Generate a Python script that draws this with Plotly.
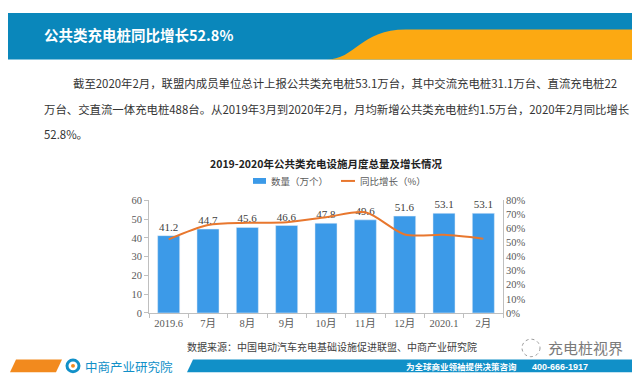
import plotly.graph_objects as go

# ---------------- data ----------------
categories = ["2019.6", "7月", "8月", "9月", "10月", "11月", "12月", "2020.1", "2月"]
quantity = [41.2, 44.7, 45.6, 46.6, 47.8, 49.6, 51.6, 53.1, 53.1]          # 万个
growth = [52.3, 62.5, 64.0, 64.5, 68.0, 71.5, 55.8, 55.5, 52.8]           # %
left_ticks = [0, 10, 20, 30, 40, 50, 60]
right_ticks = [0, 10, 20, 30, 40, 50, 60, 70, 80]
right_labels = [f"{v}%" for v in right_ticks]
series_names = ["数量（万个）", "同比增长（%）"]

W, H = 640, 376
def px(x): return x / W
def py(y): return 1 - y / H

BAR_C = "#3c9ae8"
LINE_C = "#e8772e"
BLUE = "#0a87bb"
ORANGE = "#fca912"
CJK = "Noto Sans CJK SC"
SERIF = "Liberation Serif, Noto Sans CJK SC"

fig = go.Figure()
fig.add_trace(go.Bar(
    x=categories, y=quantity, name=series_names[0],
    marker=dict(color=BAR_C), width=0.56,
    text=[f"{v:.1f}" for v in quantity], textposition="outside",
    textfont=dict(family=SERIF, size=11, color="#404040"),
    cliponaxis=False, yaxis="y", showlegend=False,
))
fig.add_trace(go.Scatter(
    x=categories, y=growth, name=series_names[1], mode="lines",
    line=dict(color=LINE_C, width=2, shape="spline", smoothing=0.8),
    yaxis="y2", showlegend=False,
))

axis_font = dict(family=SERIF, size=10.5, color="#595959")
fig.update_layout(
    width=W, height=H, margin=dict(l=0, r=0, t=0, b=0),
    paper_bgcolor="white", plot_bgcolor="rgba(0,0,0,0)",
    xaxis=dict(domain=[px(141), px(495)], showline=True, linecolor="#bfbfbf",
               ticks="outside", tickson="boundaries", ticklen=4, tickcolor="#bfbfbf",
               tickfont=axis_font, showgrid=False, anchor="y"),
    yaxis=dict(domain=[py(309), py(193)], range=[0, 60], tickvals=left_ticks,
               showline=True, linecolor="#bfbfbf", ticks="outside", ticklen=4,
               tickcolor="#bfbfbf", showgrid=False, zeroline=False, tickfont=axis_font),
    yaxis2=dict(overlaying="y", side="right", range=[0, 80], tickvals=right_ticks,
                ticktext=right_labels, showline=True, linecolor="#bfbfbf", ticks="",
                showgrid=False, zeroline=False, tickfont=axis_font, anchor="x"),
)

shapes = []
# top banner
shapes.append(dict(type="rect", xref="paper", yref="paper", x0=0, x1=1, y0=py(48), y1=1,
                   fillcolor=BLUE, line=dict(width=0), layer="below"))
shapes.append(dict(type="path", xref="paper", yref="paper",
                   path=(f"M {px(318)},{py(48)} C {px(348)},{py(48)} {px(352)},{py(17)} {px(398)},{py(17)} "
                         f"L 1,{py(17)} L 1,{py(48)} Z"),
                   fillcolor=ORANGE, line=dict(width=0), layer="below"))
# bottom banner
shapes.append(dict(type="path", xref="paper", yref="paper",
                   path=f"M {px(2)},{py(370)} L {px(8)},{py(357)} L {px(54)},{py(357)} L {px(48)},{py(370)} Z",
                   fillcolor="#f28a1e", line=dict(width=0)))
shapes.append(dict(type="path", xref="paper", yref="paper",
                   path=f"M {px(179)},{py(370)} L {px(185)},{py(357)} L {px(637)},{py(357)} L {px(631)},{py(370)} Z",
                   fillcolor="#1190c8", line=dict(width=0)))
# logo
shapes.append(dict(type="circle", xref="paper", yref="paper",
                   x0=px(59), x1=px(71), y0=py(369.5), y1=py(357.5),
                   line=dict(color="#1190c8", width=3)))
shapes.append(dict(type="circle", xref="paper", yref="paper",
                   x0=px(63), x1=px(67), y0=py(365.5), y1=py(361.5),
                   fillcolor="#f28a1e", line=dict(width=0)))
# wechat-like icon
shapes.append(dict(type="circle", xref="paper", yref="paper",
                   x0=px(514), x1=px(532), y0=py(354), y1=py(336),
                   line=dict(color="#9a9a9a", width=1, dash="dot")))
# manual legend symbols
shapes.append(dict(type="rect", xref="paper", yref="paper",
                   x0=px(245), x1=px(258), y0=py(176), y1=py(170),
                   fillcolor=BAR_C, line=dict(width=0)))
shapes.append(dict(type="line", xref="paper", yref="paper",
                   x0=px(333), x1=px(347), y0=py(173), y1=py(173),
                   line=dict(color=LINE_C, width=2)))
fig.update_layout(shapes=shapes)

ann = []
def text(x, y, s, size, color, family=CJK, anchor="left", bold=False):
    ann.append(dict(xref="paper", yref="paper", x=px(x), y=py(y), text=f"<b>{s}</b>" if bold else s,
                    showarrow=False, xanchor=anchor, yanchor="middle",
                    font=dict(family=family, size=size, color=color)))

text(34, 22, "公共类充电桩同比增长52.8%", 14.5, "white", bold=True)
text(63, 72, "截至2020年2月，联盟内成员单位总计上报公共类充电桩53.1万台，其中交流充电桩31.1万台、直流充电桩22", 11.4, "#333333")
text(34, 99, "万台、交直流一体充电桩488台。从2019年3月到2020年2月，月均新增公共类充电桩约1.5万台，2020年2月同比增长", 11.4, "#333333")
text(34, 125, "52.8%。", 11.4, "#333333")
text(318, 155, "2019-2020年公共类充电设施月度总量及增长情况", 10.5, "#222222", anchor="center", bold=True)
text(261, 173, series_names[0], 9.5, "#595959")
text(350, 173, series_names[1], 9.5, "#595959")
text(324, 344, "数据来源：中国电动汽车充电基础设施促进联盟、中商产业研究院", 10, "#404040", anchor="center")
text(538, 345, "充电桩视界", 15, "#7a7a7a")
text(75, 364, "中商产业研究院", 12.5, "#1190c8")
text(396, 364, "为全球商业领袖提供决策咨询", 8.5, "white", bold=True)
text(522, 364.5, "400-666-1917", 9, "white", family="Liberation Sans", bold=True)
fig.update_layout(annotations=ann)

fig.write_html("out.html")
